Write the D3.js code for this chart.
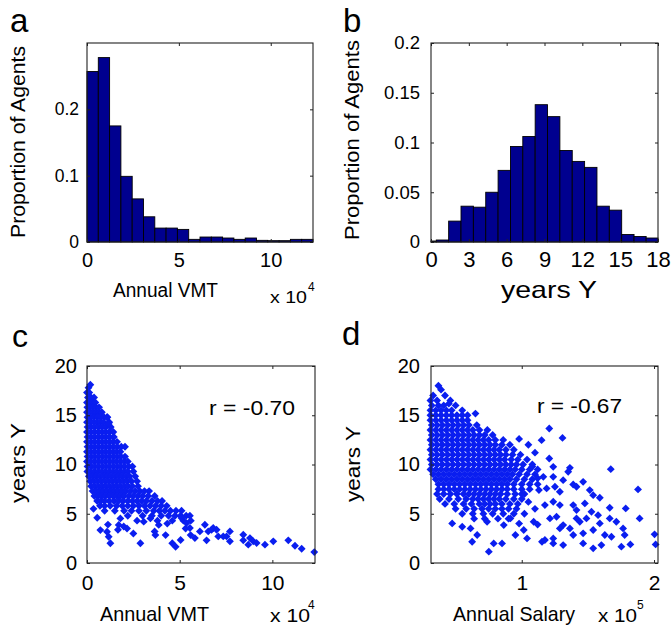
<!DOCTYPE html>
<html><head><meta charset="utf-8">
<script src="https://cdn.jsdelivr.net/npm/d3@7"></script>
<style>
body{margin:0;background:#fff}
text{font-family:"Liberation Sans",Arial,Helvetica,sans-serif;fill:#000}
</style>
</head><body>
<svg id="fig" width="671" height="626"></svg>
<script>
// ---------- DATA ----------
// (a) histogram of annual VMT (x 10^4)
const vmtBinEdges = [0, 0.615, 1.23, 1.845, 2.46, 3.075, 3.69, 4.305, 4.92, 5.535, 6.15, 6.765, 7.38, 7.995, 8.61, 9.225, 9.84, 10.455, 11.07, 11.685, 12.3];
const vmtShare = [0.257, 0.278, 0.175, 0.099, 0.065, 0.038, 0.021, 0.021, 0.019, 0.004, 0.0075, 0.0075, 0.006, 0.004, 0.006, 0.0025, 0.002, 0.002, 0.004, 0.004];
// (b) histogram of years Y
const yearBinEdges = [0, 0.42, 1.40, 2.38, 3.36, 4.34, 5.32, 6.30, 7.28, 8.26, 9.24, 10.22, 11.20, 12.18, 13.16, 14.14, 15.12, 16.10, 17.06, 18.0];
const yearShare = [0.001, 0.002, 0.021, 0.036, 0.035, 0.050, 0.072, 0.096, 0.106, 0.138, 0.126, 0.092, 0.081, 0.075, 0.036, 0.032, 0.0075, 0.0055, 0.004];
// (c) scatter: annual VMT (x 10^4) vs years Y — dense rows [y, [x...]] and sparse points [x, y]
const vmtYearsRows = [
  [18.1, [0.18]],
  [17.8, [0.08]],
  [17.3, [0.0, 0.12]],
  [16.8, [0.05, 0.22, 0.38]],
  [16.3, [0.0, 0.15, 0.3, 0.45]],
  [15.8, [0.02, 0.18, 0.34, 0.5, 0.65]],
  [15.3, [0.0, 0.16, 0.32, 0.48, 0.64, 0.8]],
  [14.8, [0.03, 0.2, 0.38, 0.56, 0.74, 0.92, 1.1]],
  [14.3, [0.0, 0.18, 0.36, 0.54, 0.72, 0.9, 1.2]],
  [13.8, [0.03, 0.22, 0.42, 0.62, 0.82, 1.02, 1.28]],
  [13.3, [0.0, 0.2, 0.4, 0.6, 0.8, 1.0, 1.2, 1.42]],
  [12.8, [0.03, 0.23, 0.43, 0.63, 0.83, 1.03, 1.23, 1.45]],
  [12.3, [0.0, 0.2, 0.4, 0.6, 0.8, 1.0, 1.2, 1.4, 1.62]],
  [11.8, [0.03, 0.23, 0.43, 0.63, 0.83, 1.03, 1.23, 1.43, 1.63, 1.85, 2.05]],
  [11.3, [0.0, 0.2, 0.4, 0.6, 0.8, 1.0, 1.2, 1.4, 1.6, 1.8]],
  [10.8, [0.03, 0.23, 0.43, 0.63, 0.83, 1.03, 1.23, 1.43, 1.63, 1.83, 2.05]],
  [10.3, [0.0, 0.2, 0.4, 0.6, 0.8, 1.0, 1.2, 1.4, 1.6, 1.8, 2.0, 2.2]],
  [9.8, [0.03, 0.23, 0.43, 0.63, 0.83, 1.03, 1.23, 1.43, 1.63, 1.83, 2.03, 2.25, 2.45]],
  [9.3, [0.02, 0.2, 0.4, 0.6, 0.8, 1.0, 1.2, 1.4, 1.6, 1.8, 2.0, 2.2, 2.5]],
  [8.8, [0.1, 0.3, 0.5, 0.7, 0.9, 1.1, 1.3, 1.5, 1.7, 1.9, 2.1, 2.3, 2.6]],
  [8.3, [0.17, 0.37, 0.57, 0.77, 0.97, 1.17, 1.37, 1.57, 1.77, 1.97, 2.17, 2.4, 2.7]],
  [7.8, [0.22, 0.42, 0.62, 0.82, 1.02, 1.22, 1.42, 1.62, 1.82, 2.02, 2.22, 2.45, 2.75]],
  [7.3, [0.3, 0.5, 0.7, 0.9, 1.1, 1.3, 1.5, 1.7, 1.9, 2.1, 2.35, 2.6, 2.85, 3.1, 3.35]],
  [6.8, [0.4, 0.6, 0.8, 1.0, 1.2, 1.4, 1.6, 1.8, 2.0, 2.25, 2.5, 2.75, 3.0, 3.3, 3.65]],
  [6.3, [0.55, 0.75, 0.95, 1.2, 1.45, 1.7, 1.95, 2.2, 2.45, 2.7, 2.95, 3.2, 3.5, 3.8, 4.05]],
  [5.8, [0.7, 0.95, 1.25, 1.6, 1.9, 2.2, 2.5, 2.8, 3.1, 3.4, 3.7, 4.0, 4.3]],
  [5.3, [0.95, 1.5, 2.0, 2.4, 2.8, 3.2, 3.6, 3.9, 4.2, 4.5, 4.8, 5.1]],
  [4.8, [2.2, 3.0, 3.5, 4.0, 4.4, 4.75, 5.05, 5.35, 5.55]],
  [4.3, [2.7, 3.8, 4.6, 5.2, 5.6]]
];
const vmtYearsSparse = [
  [1.08,14.8],[1.17,14.1],[0.72,3.34],[1.08,3.17],[1.17,2.66],[1.26,2.0],[1.8,4.53],[1.71,3.87],
  [1.98,3.7],[2.16,3.5],[2.88,2.0],[3.06,4.2],[3.42,4.53],[3.69,2.83],[3.87,3.87],[4.24,2.83],
  [4.33,4.0],[4.6,2.0],[4.78,1.65],[5.05,2.33],[5.59,2.83],[5.32,3.5],[1.13,3.9],[1.67,3.38],
  [3.65,3.2],[0.55,4.6],[0.35,5.5],[2.5,3.0],[5.1,4.56],[5.37,4.05],[5.55,3.55],
  [5.82,2.53],[6.09,3.21],[6.36,3.88],[6.54,3.21],[6.45,2.3],[6.72,3.38],[6.81,3.55],[6.99,3.38],
  [7.08,2.7],[7.35,2.7],[7.53,2.7],[7.71,3.21],[7.71,2.2],[8.43,2.87],[8.43,2.3],[8.79,2.53],
  [8.7,1.86],[8.97,2.2],[9.15,2.03],[9.6,1.86],[10.05,2.2],[10.86,2.3],[11.22,1.75],[11.58,1.45],[12.26,1.11]
];
// (d) scatter: annual salary (x 10^5) vs years Y
const salaryYearsRows = [
  [18.0, [0.37]],
  [17.6, [0.39]],
  [17.0, [0.33, 0.42]],
  [16.5, [0.31, 0.36, 0.46]],
  [16.0, [0.32, 0.37, 0.41, 0.5]],
  [15.5, [0.31, 0.35, 0.39, 0.43, 0.47, 0.55]],
  [15.0, [0.31, 0.35, 0.39, 0.43, 0.47, 0.51, 0.55, 0.59]],
  [14.5, [0.31, 0.35, 0.39, 0.43, 0.47, 0.51, 0.55, 0.59]],
  [14.0, [0.32, 0.36, 0.40, 0.44, 0.48, 0.52, 0.56, 0.60, 0.66]],
  [13.5, [0.31, 0.35, 0.39, 0.43, 0.47, 0.51, 0.55, 0.59, 0.63, 0.68, 0.74]],
  [13.0, [0.32, 0.36, 0.40, 0.44, 0.48, 0.52, 0.56, 0.60, 0.64, 0.68, 0.72, 0.78]],
  [12.5, [0.31, 0.35, 0.39, 0.43, 0.47, 0.51, 0.55, 0.59, 0.63, 0.67, 0.71, 0.75, 0.80, 0.86]],
  [12.0, [0.32, 0.36, 0.40, 0.44, 0.48, 0.52, 0.56, 0.60, 0.64, 0.68, 0.72, 0.76, 0.80, 0.85, 0.91]],
  [11.5, [0.31, 0.35, 0.39, 0.43, 0.47, 0.51, 0.55, 0.59, 0.63, 0.67, 0.71, 0.75, 0.79, 0.83, 0.88, 0.94]],
  [11.0, [0.32, 0.36, 0.40, 0.44, 0.48, 0.52, 0.56, 0.60, 0.64, 0.68, 0.72, 0.76, 0.80, 0.84, 0.88, 0.93, 0.99]],
  [10.5, [0.31, 0.35, 0.39, 0.43, 0.47, 0.51, 0.55, 0.59, 0.63, 0.67, 0.71, 0.75, 0.79, 0.83, 0.87, 0.92, 0.97, 1.04]],
  [10.0, [0.32, 0.36, 0.40, 0.44, 0.48, 0.52, 0.56, 0.60, 0.64, 0.68, 0.72, 0.76, 0.80, 0.84, 0.88, 0.92, 0.96, 1.01, 1.08]],
  [9.5, [0.31, 0.35, 0.39, 0.43, 0.47, 0.51, 0.55, 0.59, 0.63, 0.67, 0.71, 0.75, 0.79, 0.83, 0.87, 0.91, 0.95, 1.0, 1.06, 1.12]],
  [9.0, [0.33, 0.37, 0.41, 0.45, 0.49, 0.53, 0.57, 0.61, 0.65, 0.69, 0.73, 0.77, 0.81, 0.85, 0.89, 0.93, 0.98, 1.04, 1.1]],
  [8.5, [0.35, 0.39, 0.43, 0.47, 0.51, 0.55, 0.59, 0.63, 0.67, 0.71, 0.75, 0.79, 0.83, 0.87, 0.91, 0.96, 1.02, 1.08]],
  [8.0, [0.37, 0.41, 0.45, 0.49, 0.53, 0.57, 0.61, 0.65, 0.69, 0.73, 0.77, 0.81, 0.85, 0.89, 0.94, 1.0, 1.06, 1.12]],
  [7.5, [0.37, 0.41, 0.45, 0.49, 0.53, 0.57, 0.61, 0.65, 0.69, 0.73, 0.77, 0.81, 0.85, 0.89, 0.94, 1.0, 1.06]],
  [7.0, [0.36, 0.41, 0.46, 0.51, 0.56, 0.60, 0.64, 0.68, 0.72, 0.76, 0.80, 0.84, 0.89, 0.95, 1.02]],
  [6.5, [0.38, 0.45, 0.52, 0.58, 0.63, 0.67, 0.71, 0.75, 0.79, 0.83, 0.88, 0.94, 1.0]],
  [6.0, [0.42, 0.49, 0.56, 0.62, 0.68, 0.72, 0.76, 0.80, 0.85, 0.91, 0.97]],
  [5.5, [0.5, 0.58, 0.64, 0.70, 0.75, 0.80, 0.85, 0.90, 0.96]],
  [5.0, [0.55, 0.63, 0.71, 0.78, 0.86, 0.94]],
  [4.5, [0.64, 0.72, 0.82, 0.9]]
];
const salaryYearsSparse = [
  [0.449,16.18],[0.650,15.17],[0.474,4.02],[0.550,3.68],[0.613,3.51],[0.663,2.84],[0.625,2.16],
  [0.751,1.15],[0.788,1.99],[0.851,1.99],[0.952,2.84],[1.015,3.35],[1.04,2.50],[1.153,2.16],
  [0.914,4.53],[0.864,3.85],[1.09,4.19],[0.738,4.19],
  [1.0,7.0],[1.05,6.2],[1.1,5.5],[1.12,8.6],[1.08,9.8],[1.02,5.0],[0.98,4.0],[1.12,3.9],[1.1,11.2],[1.05,12.0],[0.98,12.6],[1.13,7.4],
  [1.208,13.65],[1.308,12.70],[1.150,12.47],[1.208,10.61],[1.238,9.76],[1.364,9.66],[1.351,9.26],[1.673,9.53],
  [1.163,8.75],[1.238,8.75],[1.313,8.41],[1.389,7.97],[1.464,8.24],[1.414,7.74],[1.188,7.57],[1.251,7.74],
  [1.288,7.23],[1.514,7.40],[1.540,6.89],[1.590,6.62],[1.879,7.47],[1.175,5.88],[1.238,6.22],[1.288,5.88],
  [1.389,5.88],[1.414,5.37],[1.477,6.05],[1.527,5.20],[1.577,4.86],[1.665,5.61],[1.786,5.54],[1.213,4.53],
  [1.263,4.70],[1.313,3.85],[1.414,4.53],[1.439,4.19],[1.489,4.53],[1.590,4.02],[1.665,4.53],[1.715,4.19],
  [1.891,4.53],[1.175,2.33],[1.238,2.50],[1.288,3.51],[1.364,3.51],[1.389,2.84],[1.464,3.01],[1.540,3.35],
  [1.628,2.84],[1.678,2.67],[1.766,3.51],[1.778,2.84],[2.004,2.91],[1.238,1.99],[1.313,1.82],[1.464,1.99],
  [1.540,1.49],[1.602,1.82],[1.753,1.66],[1.821,1.89],[2.012,1.89]
];
// tick values
const vmtTicks = [0, 5, 10];
const shareTicksA = [0, 0.1, 0.2];
const yearTicks = [0, 3, 6, 9, 12, 15, 18];
const shareTicksB = [0, 0.05, 0.1, 0.15, 0.2];
const yearsYTicks = [0, 5, 10, 15, 20];
const salaryTicks = [1, 2];

// ---------- DRAWING ----------
const svg = d3.select("#fig");
const BAR_FILL = "#00008f";
const DOT_FILL = "#0a1ef0";

function makePanel(box, xDom, yDom, xTicks, yTicks, drawMarks) {
  const x = d3.scaleLinear().domain(xDom).range([box.l, box.r]);
  const y = d3.scaleLinear().domain(yDom).range([box.b, box.t]);
  const g = svg.append("g");
  g.append("rect").attr("x", box.l).attr("y", box.t).attr("width", box.r - box.l).attr("height", box.b - box.t).attr("fill", "#fff");
  drawMarks(g, x, y);
  const fmt = d => String(d);
  const ax = (axis, tx, ty, labels, pad, fs) => {
    const a = g.append("g").attr("transform", `translate(${tx},${ty})`)
      .call(axis.tickSize(-3).tickSizeOuter(0).tickPadding(pad).tickFormat(labels ? fmt : ""));
    a.select(".domain").remove();
    a.selectAll(".tick line").attr("stroke", "#222");
    a.selectAll("text").attr("font-size", fs).attr("font-family", null).attr("fill", "#000");
    return a;
  };
  ax(d3.axisBottom(x).tickValues(xTicks), 0, box.b, true, box.xpad, box.xfs);
  ax(d3.axisTop(x).tickValues(xTicks), 0, box.t, false, 0, 10);
  ax(d3.axisLeft(y).tickValues(yTicks), box.l, 0, true, box.ypad, box.yfs);
  ax(d3.axisRight(y).tickValues(yTicks), box.r, 0, false, 0, 10);
  g.append("rect").attr("x", box.l).attr("y", box.t).attr("width", box.r - box.l).attr("height", box.b - box.t)
    .attr("fill", "none").attr("stroke", "#222").attr("stroke-width", 1.1);
  return {x, y, g};
}

function bars(edges, values) {
  return (g, x, y) => {
    g.selectAll("rect.bar").data(values).join("rect").attr("class", "bar")
      .attr("x", (d, i) => x(edges[i]))
      .attr("width", (d, i) => x(edges[i + 1]) - x(edges[i]))
      .attr("y", d => y(d))
      .attr("height", d => y(0) - y(d))
      .attr("fill", BAR_FILL).attr("stroke", "#000").attr("stroke-width", 0.9);
  };
}

const diamond = { draw(ctx, size) { const r = Math.sqrt(size / 2); ctx.moveTo(0, -r); ctx.lineTo(r, 0); ctx.lineTo(0, r); ctx.lineTo(-r, 0); ctx.closePath(); } };
function dots(rows, sparse) {
  const pts = [];
  rows.forEach(([yv, xs]) => xs.forEach(xv => pts.push([xv, yv])));
  sparse.forEach(p => pts.push(p));
  return (g, x, y) => {
    g.selectAll("path.dot").data(pts).join("path").attr("class", "dot")
      .attr("transform", d => `translate(${x(d[0])},${y(d[1])})`)
      .attr("d", d3.symbol(diamond, 31)).attr("fill", DOT_FILL);
  };
}

function text(str, xp, yp, fs, anchor, rot, len) {
  const t = svg.append("text").text(str).attr("font-size", fs).attr("text-anchor", anchor || "start");
  if (rot) t.attr("transform", `translate(${xp},${yp}) rotate(${rot})`);
  else t.attr("x", xp).attr("y", yp);
  if (len) t.attr("textLength", len).attr("lengthAdjust", "spacingAndGlyphs");
  return t;
}

// panel a
makePanel({l: 87, r: 313, t: 43, b: 242, xfs: 20, xpad: 10.5, yfs: 17.5, ypad: 8}, [0, 12.3], [0, 0.3], vmtTicks, shareTicksA, bars(vmtBinEdges, vmtShare));
// panel b
makePanel({l: 431, r: 658, t: 43, b: 242, xfs: 22, xpad: 9.5, yfs: 18.5, ypad: 11}, [0, 18], [0, 0.2], yearTicks, shareTicksB, bars(yearBinEdges, yearShare));
// panel c
makePanel({l: 87, r: 315, t: 366, b: 563, xfs: 21, xpad: 12, yfs: 20, ypad: 10}, [0, 12.3], [0, 20], vmtTicks, yearsYTicks, dots(vmtYearsRows, vmtYearsSparse));
// panel d
makePanel({l: 431, r: 658, t: 366, b: 563, xfs: 21, xpad: 12, yfs: 20, ypad: 11}, [0.314, 2.03], [0, 20], salaryTicks, yearsYTicks, dots(salaryYearsRows, salaryYearsSparse));

// panel letters
text("a", 10, 32, 33);
text("b", 343, 32, 33);
text("c", 12, 347, 32);
text("d", 342, 345, 33);
// axis labels
text("Proportion of Agents", 25, 142, 20, "middle", -90, 192);
text("Proportion of Agents", 359, 140, 20, "middle", -90, 200);
text("years Y", 25, 463, 20, "middle", -90, 80);
text("years Y", 360, 464, 20, "middle", -90, 76);
text("Annual VMT", 113, 297, 20, "start", 0, 105);
text("years Y", 501, 298, 24, "start", 0, 96);
text("Annual VMT", 100, 621, 21, "start", 0, 109);
text("Annual Salary", 453, 621, 21, "start", 0, 122);
// exponent notes
text("x 10", 270, 303, 17, "start", 0, 37);
text("4", 308, 291, 12);
text("x 10", 270, 622, 18, "start", 0, 40);
text("4", 308, 609, 12);
text("x 10", 598, 622, 18, "start", 0, 39);
text("5", 637, 609, 12);
// correlation annotations
text("r = -0.70", 209, 415, 20, "start", 0, 86);
text("r = -0.67", 537, 413, 20, "start", 0, 85);
</script>
</body></html>
